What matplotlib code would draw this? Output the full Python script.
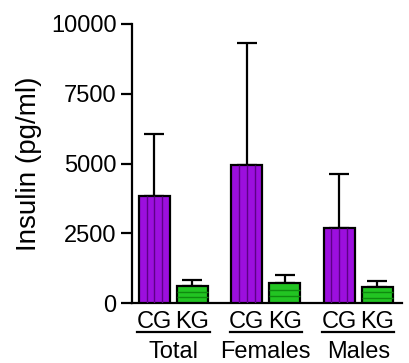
import numpy as np, matplotlib
matplotlib.use("Agg"); import matplotlib.pyplot as plt
from matplotlib.transforms import blended_transform_factory

PURPLE = "#9c0fde"; PURPLE_LN = "#5e0088"; GREEN = "#22c422"; GREEN_LN = "#0f8a0f"
plt.rcParams.update({"font.family": ["Liberation Sans", "DejaVu Sans"], "axes.linewidth": 1.6})

groups = ["Total", "Females", "Males"]
series = ["CG", "KG"]
cg_mean = [3830, 4950, 2690]
cg_err = [2230, 4370, 1930]     # upper SD only
kg_mean = [610, 720, 575]
kg_err = [215, 285, 215]

GAP = 2.43; W = 0.82
xc = np.arange(len(groups)) * GAP
xk = xc + 1.0

fig = plt.figure(figsize=(4.09, 3.63), dpi=100)
ax = fig.add_axes([132/409, 1-303/363, 270/409, 279/363])

def striped(ax, x, h, err, face, line, vertical):
    bars = ax.bar(x, h, width=W, color=face, edgecolor="black", linewidth=1.6, zorder=3)
    ax.errorbar(x, h, yerr=[np.zeros(len(h)), err], fmt="none", ecolor="black",
                elinewidth=1.6, capsize=7.5, capthick=1.6, zorder=2)
    for b in bars:
        x0, w, hh = b.get_x(), b.get_width(), b.get_height()
        if vertical:
            ax.vlines([x0 + w*k/4 for k in (1, 2, 3)], 0, hh, color=line, lw=1.0, zorder=4)
        else:
            ax.hlines([hh*k/3 for k in (1, 2)], x0, x0 + w, color=line, lw=1.0, zorder=4)

striped(ax, xc, cg_mean, cg_err, PURPLE, PURPLE_LN, True)
striped(ax, xk, kg_mean, kg_err, GREEN, GREEN_LN, False)

ax.set_xlim(-0.59, 6.51); ax.set_ylim(0, 10000)
ax.set_yticks([0, 2500, 5000, 7500, 10000])
ax.tick_params(axis="y", labelsize=17, length=8, width=1.6, pad=3)
ticks = np.ravel(np.column_stack([xc, xk]))
ax.set_xticks(ticks, series * len(groups))
ax.tick_params(axis="x", labelsize=17, length=0, pad=6)
for s in ("top", "right"): ax.spines[s].set_visible(False)
ax.set_ylabel("Insulin (pg/ml)", fontsize=20)
ax.yaxis.set_label_coords(-0.335, 0.5)

tr = blended_transform_factory(ax.transData, ax.transAxes)
for g, a, b in zip(groups, xc, xk):
    mid = (a + b) / 2
    ax.plot([mid - 0.95, mid + 0.95], [-0.104, -0.104], color="black", lw=1.6,
            transform=tr, clip_on=False)
    ax.text(mid, -0.136, g, transform=tr, ha="center", va="top", fontsize=17)

fig.savefig("out.png", dpi=100)
